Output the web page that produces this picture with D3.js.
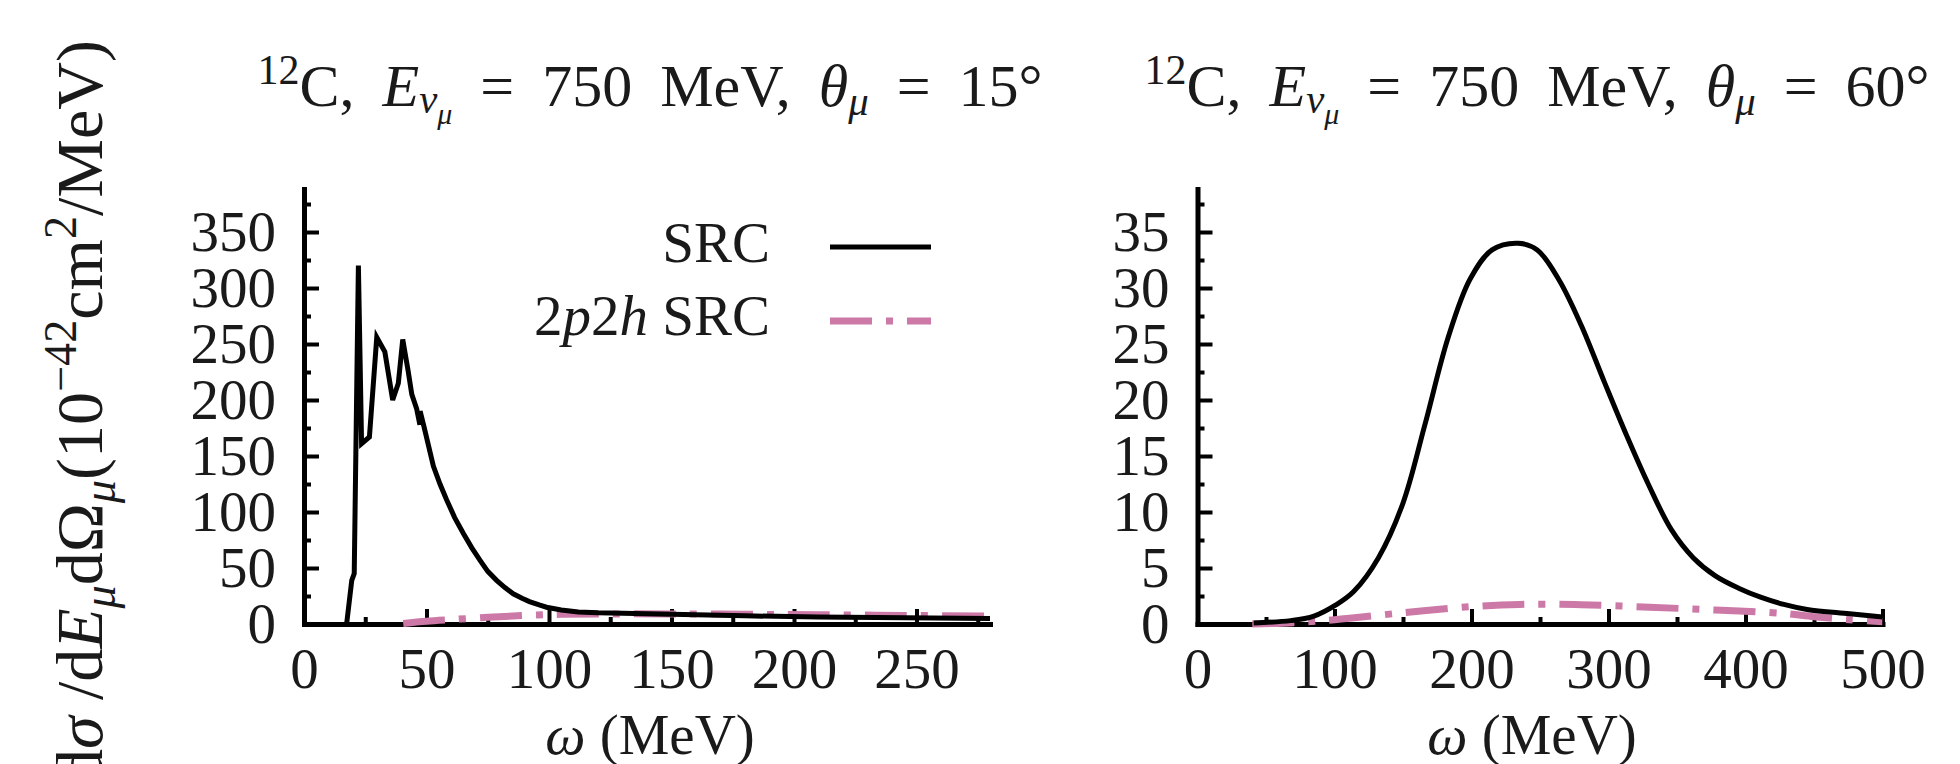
<!DOCTYPE html>
<html lang="en">
<head>
<meta charset="UTF-8">
<title>12C, E = 750 MeV, SRC</title>
<script src="https://d3js.org/d3.v7.min.js"></script>
<style>
  body { margin: 0; background: #fff; }
  svg { display: block; }
  text { font-family: "Liberation Serif", "DejaVu Serif", serif; fill: #1a1a1a; white-space: pre; }
  .title { word-spacing: 13px; }
  .domain { stroke: #000; stroke-width: 5px; stroke-linecap: square; fill: none; }
  .tick line { stroke: #000; stroke-width: 4px; }
  .src { fill: none; stroke: #000; stroke-width: 5px; }
  .p2h { fill: none; stroke: #cc79a7; stroke-width: 7px; stroke-dasharray: 42 14 7 14; }
</style>
</head>
<body>
<svg width="1960" height="764"></svg>
<script>
// theta = 15 deg panel
const srcOmega15 = [17.4, 19.5, 20.5, 22.2, 23.5, 26.7, 29.7, 33, 36.2, 38.5, 40.3, 42.5, 44, 46, 47.3, 47.4, 49,
  52.8, 55.5, 58.2, 61.5, 65, 68.5, 71.8, 75, 78.6, 82, 85.4, 89, 92, 96, 99, 105, 112, 120, 135, 150, 180, 210, 245, 280];
const srcValue15 = [0, 39, 45, 320, 161, 167, 256, 243, 200, 215, 254, 226, 205, 192, 178, 190, 176,
  141, 125, 111, 95, 81, 68, 57, 47, 39, 32.5, 27, 23, 20, 17, 15, 12.5, 10.8, 10, 9.3, 8.8, 7.3, 6.2, 5.5, 4.9];
const p2hOmega15 = [40.5, 50, 60, 75, 90, 105, 125, 150, 180, 210, 245, 280];
const p2hValue15 = [0.5, 2.4, 3.9, 6.0, 7.6, 8.6, 9.0, 9.0, 8.7, 8.3, 7.7, 7.2];

// theta = 60 deg panel
const srcOmega60 = [41, 68, 85, 101, 114, 132, 150, 166, 183, 199, 215, 234, 248, 264, 280, 297, 313, 329, 346, 362, 378, 395, 411, 428, 445, 476, 500];
const srcValue60 = [0.1, 0.3, 0.7, 1.7, 2.9, 5.9, 10.8, 17.8, 25.6, 30.8, 33.4, 34.0, 33.4, 30.7, 26.7, 21.6, 16.9, 12.5, 8.4, 5.9, 4.3, 3.2, 2.4, 1.75, 1.3, 0.92, 0.63];
const p2hOmega60 = [40, 70, 100, 150, 200, 235, 280, 330, 378, 427, 450, 476, 500];
const p2hValue60 = [0, 0.12, 0.38, 1.0, 1.55, 1.75, 1.72, 1.5, 1.25, 0.95, 0.65, 0.38, 0.2];

// ticks
const xMajor15 = [0, 50, 100, 150, 200, 250];
const xMinor15 = [25, 75, 125, 175, 225, 275];
const yMajor15 = [0, 50, 100, 150, 200, 250, 300, 350];
const yMinor15 = [25, 75, 125, 175, 225, 275, 325, 375];
const xMajor60 = [0, 100, 200, 300, 400, 500];
const xMinor60 = [50, 150, 250, 350, 450];
const yMajor60 = [0, 5, 10, 15, 20, 25, 30, 35];
const yMinor60 = [2.5, 7.5, 12.5, 17.5, 22.5, 27.5, 32.5, 37.5];

const seriesNames = ["SRC", "2p2h SRC"];

const svg = d3.select("svg");
const fs = 57;
const plotTop = 189, plotBottom = 624;

function richText(g, x, y, size, parts, anchor) {
  const t = g.append("text")
    .attr("x", x).attr("y", y)
    .attr("font-size", size)
    .attr("text-anchor", anchor || "start");
  let cur = 0;
  parts.forEach(p => {
    const off = (p.dy || 0) * size;
    t.append("tspan")
      .attr("dy", off - cur)
      .attr("font-size", (p.s || 1) * size)
      .attr("font-style", p.i ? "italic" : null)
      .text(p.t);
    cur = off;
  });
  return t;
}

function titleParts(angle) {
  return [
    {t: "12", s: 0.7, dy: -0.37}, {t: "C, "}, {t: "E", i: 1},
    {t: "ν", i: 1, s: 0.68, dy: 0.12}, {t: "μ", i: 1, s: 0.5, dy: 0.3},
    {t: " = 750 MeV, "}, {t: "θ", i: 1}, {t: "μ", i: 1, s: 0.68, dy: 0.15},
    {t: " = " + angle + "°"}
  ];
}

function drawPanel(p) {
  const x = d3.scaleLinear().domain(p.xDomain).range([p.left, p.right]);
  const y = d3.scaleLinear().domain(p.yDomain).range([plotBottom, plotTop]);
  const g = svg.append("g");

  // minor ticks
  g.append("g").attr("transform", `translate(0,${plotBottom})`)
    .call(d3.axisBottom(x).tickValues(p.xMinor).tickSize(-7).tickFormat(""))
    .call(a => a.select(".domain").remove());
  g.append("g").attr("transform", `translate(${p.left},0)`)
    .call(d3.axisLeft(y).tickValues(p.yMinor).tickSize(-7).tickFormat(""))
    .call(a => a.select(".domain").remove());

  // major ticks + labels
  g.append("g").attr("transform", `translate(0,${plotBottom})`)
    .call(d3.axisBottom(x).tickValues(p.xMajor).tickSizeInner(-15).tickSizeOuter(0).tickPadding(24))
    .attr("font-size", fs).attr("font-family", null);
  g.append("g").attr("transform", `translate(${p.left},0)`)
    .call(d3.axisLeft(y).tickValues(p.yMajor).tickSizeInner(-15).tickSizeOuter(0).tickPadding(28))
    .attr("font-size", fs).attr("font-family", null);

  const clipId = "clip" + p.angle;
  svg.append("clipPath").attr("id", clipId).append("rect")
    .attr("x", p.left).attr("y", plotTop).attr("width", p.right - p.left).attr("height", plotBottom - plotTop + 4);

  const line = d3.line().x(d => x(d[0])).y(d => y(d[1]));
  const smooth = d3.line().x(d => x(d[0])).y(d => y(d[1])).curve(d3.curveCatmullRom.alpha(0.5));

  g.append("path")
    .datum(d3.zip(p.p2hOmega, p.p2hValue))
    .attr("class", "p2h")
    .attr("clip-path", `url(#${clipId})`)
    .attr("d", smooth);
  g.append("path")
    .datum(d3.zip(p.srcOmega, p.srcValue))
    .attr("class", "src")
    .attr("clip-path", `url(#${clipId})`)
    .attr("d", p.angle === 15 ? line : smooth);

  richText(svg, p.titleX, 106, 60, titleParts(p.angle), "middle").attr("class", "title");
  richText(svg, (p.left + p.right) / 2 + p.labelShift, 754, fs,
    [{t: "ω", i: 1}, {t: " (MeV)"}], "middle");
}

drawPanel({
  angle: 15, left: 304, right: 990, xDomain: [0, 280], yDomain: [0, 388.4],
  xMajor: xMajor15, xMinor: xMinor15, yMajor: yMajor15, yMinor: yMinor15,
  srcOmega: srcOmega15, srcValue: srcValue15, p2hOmega: p2hOmega15, p2hValue: p2hValue15,
  titleX: 650, labelShift: 3
});
drawPanel({
  angle: 60, left: 1197.5, right: 1882.5, xDomain: [0, 500], yDomain: [0, 38.84],
  xMajor: xMajor60, xMinor: xMinor60, yMajor: yMajor60, yMinor: yMinor60,
  srcOmega: srcOmega60, srcValue: srcValue60, p2hOmega: p2hOmega60, p2hValue: p2hValue60,
  titleX: 1537, labelShift: -8
});

// legend
const legend = svg.append("g");
richText(legend, 770, 262, fs, [{t: seriesNames[0]}], "end");
richText(legend, 770, 335, fs, [{t: "2"}, {t: "p", i: 1}, {t: "2"}, {t: "h", i: 1}, {t: " SRC"}], "end");
legend.append("line").attr("class", "src").attr("x1", 830).attr("x2", 931).attr("y1", 247).attr("y2", 247);
legend.append("line").attr("class", "p2h").attr("x1", 830).attr("x2", 931).attr("y1", 321).attr("y2", 321);

// y axis label
const yl = richText(svg, 0, 0, 66, [
  {t: "d"}, {t: "σ", i: 1}, {t: " /d"}, {t: "E", i: 1}, {t: "μ", i: 1, s: 0.7, dy: 0.2},
  {t: "dΩ"}, {t: "μ", i: 1, s: 0.7, dy: 0.2}, {t: "(10"}, {t: "−42", s: 0.7, dy: -0.4},
  {t: "cm"}, {t: "2", s: 0.7, dy: -0.4}, {t: "/MeV)"}
], "end");
yl.attr("transform", "translate(102,40) rotate(-90)");
</script>
</body>
</html>
